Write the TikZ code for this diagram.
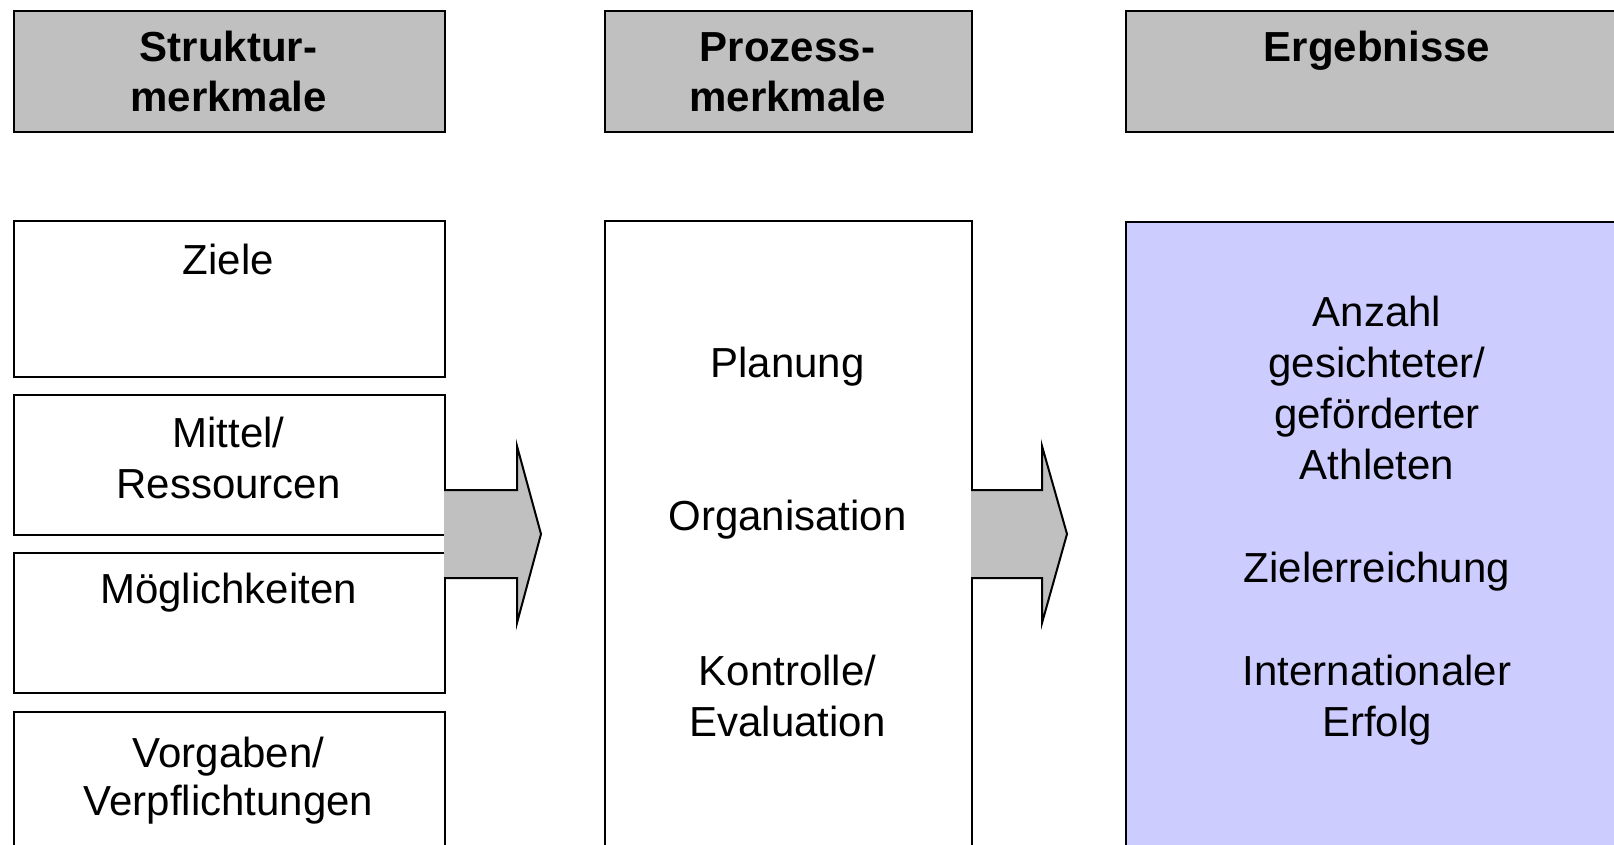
\documentclass[tikz,border=0pt]{standalone}
\usepackage{fontspec}
\setmainfont{Liberation Sans}
\definecolor{hdrgray}{HTML}{C0C0C0}
\definecolor{resblue}{HTML}{CCCCFF}
\begin{document}
\begin{tikzpicture}[x=1pt,y=-1pt,
  box/.style={draw=black,line width=2pt,inner sep=0pt,anchor=north west},
  hdr/.style={box,fill=hdrgray},
  txt/.style={anchor=base,inner sep=0pt,font=\fontsize{42pt}{51pt}\selectfont},
  btxt/.style={txt,font=\fontsize{42pt}{51pt}\selectfont\bfseries},
  blockarrow/.style={draw=black,line width=2pt,fill=hdrgray,line join=miter}]
\useasboundingbox (0,0) rectangle (1614,845);
\clip (0,0) rectangle (1614,845);
\fill[white] (0,0) rectangle (1614,845);
% headers
\node[hdr,minimum width=431pt,minimum height=121pt] (h1) at (13,10) {};
\node[hdr,minimum width=367pt,minimum height=121pt] (h2) at (604,10) {};
\node[hdr,minimum width=600pt,minimum height=121pt] (h3) at (1125,10) {};
\node[btxt] (h1a) at (228.5,62) {Struktur-};
\node[btxt] (h1b) at (228.5,112) {merkmale};
\node[btxt] (h2a) at (787.5,62) {Prozess-};
\node[btxt] (h2b) at (787.5,112) {merkmale};
\node[btxt] (h3a) at (1377,62) {Ergebnisse};
% left column boxes
\node[box,minimum width=431pt,minimum height=156pt] (ziele) at (13,220) {};
\node[box,minimum width=431pt,minimum height=140pt] (mittel) at (13,394) {};
\node[box,minimum width=431pt,minimum height=140pt] (moeg) at (13,552) {};
\node[box,minimum width=431pt,minimum height=200pt] (vorg) at (13,711) {};
\node[txt] (t1) at (228.5,274) {Ziele};
\node[txt] (t2a) at (228.5,447) {Mittel/};
\node[txt] (t2b) at (228.5,498) {Ressourcen};
\node[txt] (t3) at (228.5,603) {Möglichkeiten};
\node[txt] (t4a) at (228.5,767) {Vorgaben/};
\node[txt] (t4b) at (228.5,815) {Verpflichtungen};
% middle box
\node[box,minimum width=367pt,minimum height=700pt] (proc) at (604,220) {};
\node[txt] (p1) at (787.5,377) {Planung};
\node[txt] (p2) at (787.5,530) {Organisation};
\node[txt] (p3a) at (787.5,685) {Kontrolle/};
\node[txt] (p3b) at (787.5,736) {Evaluation};
% right box
\node[box,fill=resblue,minimum width=600pt,minimum height=700pt] (res) at (1125,221) {};
\node[txt] (r1a) at (1377,326) {Anzahl};
\node[txt] (r1b) at (1377,377) {gesichteter/};
\node[txt] (r1c) at (1377,428) {geförderter};
\node[txt] (r1d) at (1377,479) {Athleten};
\node[txt] (r2) at (1377,582) {Zielerreichung};
\node[txt] (r3a) at (1377,685) {Internationaler};
\node[txt] (r3b) at (1377,736) {Erfolg};
% block arrows
\coordinate (a1s) at (444,534);
\coordinate (a2s) at (971,534);
\draw[blockarrow] (444,490) -- (517,490) -- (517,446) -- (541,534) -- (517,623) -- (517,578) -- (444,578);
\draw[blockarrow] (971,490) -- (1042,490) -- (1042,446) -- (1067,534) -- (1042,623) -- (1042,578) -- (971,578);
\end{tikzpicture}
\end{document}
